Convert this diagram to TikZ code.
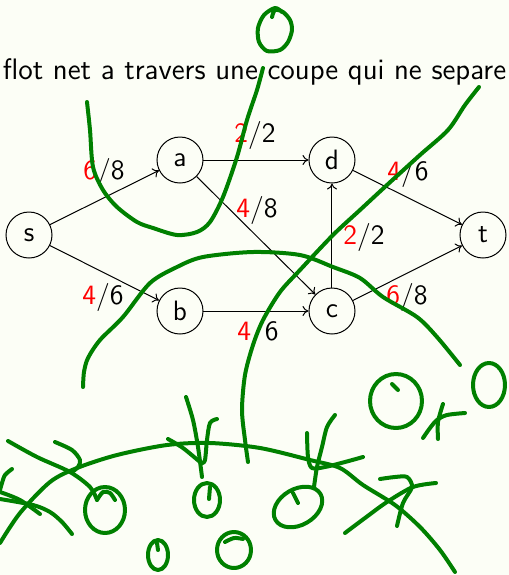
\documentclass[tikz,border=0pt]{standalone}
\usepackage{xcolor}
\usepackage{tikz}
\usetikzlibrary{arrows.meta,calc,positioning}
\definecolor{Paper}{HTML}{FCFEF6}
\definecolor{Ink}{HTML}{000000}
\definecolor{Flow}{HTML}{FF0000}
\definecolor{Pen}{HTML}{008000}

\begin{document}
\begin{tikzpicture}[x=0.5pt,y=-0.5pt,>={To[length=3pt,width=5pt]},
  vertex/.style={draw=Ink,circle,minimum size=23pt,inner sep=0pt,line width=0.5pt,font=\sffamily\fontsize{14}{16}\selectfont},
  caption/.style={inner sep=0pt,font=\sffamily\fontsize{14}{16}\selectfont},
  arc/.style={Ink,->,line width=0.5pt},
  pen/.style={Pen,line width=2pt,line cap=round,line join=round}]
  \fill[Paper] (0,0) rectangle (509,575);
  \useasboundingbox (0,0) rectangle (509,575);

  \node[caption,font=\sffamily\fontsize{14.8}{17}\selectfont] (title) at (254.5,72) {flot net a travers une coupe qui ne separe};

  \node[vertex] (s) at (29,235) {s};
  \node[vertex] (a) at (180,160) {a};
  \node[vertex] (d) at (332,160) {d};
  \node[vertex] (t) at (483,235) {t};
  \node[vertex] (b) at (180,311) {b};
  \node[vertex] (c) at (332,311) {c};

  \draw[arc] (s) -- (a);
  \draw[arc] (s) -- (b);
  \draw[arc] (a) -- (d);
  \draw[arc] (a) -- (c);
  \draw[arc] (b) -- (c);
  \draw[arc] (c) -- (d);
  \draw[arc] (d) -- (t);
  \draw[arc] (c) -- (t);

  \node[caption] (fsa) at (104,172) {\textcolor{Flow}{6}/8};
  \node[caption] (fsb) at (103,297) {\textcolor{Flow}{4}/6};
  \node[caption] (fad) at (255,135) {\textcolor{Flow}{2}/2};
  \node[caption] (fac) at (257,210) {\textcolor{Flow}{4}/8};
  \node[caption] (fcd) at (364,237) {\textcolor{Flow}{2}/2};
  \node[caption] (fdt) at (408,173) {\textcolor{Flow}{4}/6};
  \node[caption] (fct) at (407,297) {\textcolor{Flow}{6}/8};
  \node[caption] (fbc) at (258,333) {\textcolor{Flow}{4}/6};

  % freehand marks
  \draw[pen] plot[smooth] coordinates {(272,17) (275,10) (283,12) (290,20) (292,30) (288,42) (280,50) (267,51) (259,42) (258,28) (264,15) (275,8) (282,12)};
  \draw[pen] plot[smooth] coordinates {(87,102) (90,130) (93,167) (103,190) (117,207) (137,222) (153,228) (177,235) (197,232) (210,222) (223,197) (237,157) (247,120) (257,90) (263,68)};
  \draw[pen] plot[smooth] coordinates {(479,87) (465,105) (448,130) (420,155) (387,185) (360,210) (333,235) (300,270) (280,292) (263,320) (253,345) (245,375) (242,410) (245,440) (248,462)};
  \draw[pen] plot[smooth] coordinates {(83,387) (84,372) (88,358) (100,340) (123,317) (150,283) (177,267) (203,257) (253,252) (300,255) (333,267) (360,278) (383,297) (417,317) (437,337) (460,365)};
  \draw[pen] plot[smooth] coordinates {(0,543) (20,513) (50,482) (77,468) (117,455) (167,445) (210,443) (260,448) (310,460) (340,468) (363,485) (395,505) (420,527) (440,550) (455,572)};
  \draw[pen] plot[smooth] coordinates {(8,441) (37,457) (70,472) (90,487) (97,500)};
  \draw[pen] plot[smooth] coordinates {(55,442) (72,450) (80,460) (78,467) (72,472)};
  \draw[pen] plot[smooth] coordinates {(12,469) (5,475) (2,483) (0,490)};
  \draw[pen] plot[smooth] coordinates {(0,492) (20,500) (40,514)};
  \draw[pen] plot[smooth] coordinates {(0,499) (33,505) (50,512) (62,522) (72,534)};
  \draw[pen] (105,510) ellipse [x radius=20,y radius=23];
  \draw[pen] plot[smooth] coordinates {(97,500) (103,492) (110,493) (115,500)};
  \draw[pen] plot[smooth] coordinates {(186,397) (193,420) (198,447) (202,477)};
  \draw[pen] plot[smooth] coordinates {(217,419) (210,423) (207,440) (205,460) (202,463)};
  \draw[pen] plot[smooth] coordinates {(168,439) (183,448) (200,462)};
  \draw[pen] (207,500) ellipse [x radius=13,y radius=17];
  \draw[pen] (210,487) -- (209,499);
  \draw[pen] plot[smooth] coordinates {(307,433) (308,457) (312,468) (325,467) (345,462) (363,457)};
  \draw[pen] plot[smooth] coordinates {(335,415) (327,427) (322,447) (317,467) (314,487)};
  \draw[pen,rotate around={30:(298,507)}] (298,507) ellipse [x radius=26,y radius=18];
  \draw[pen] (293,493) -- (298,503);
  \draw[pen] (234,550) ellipse [x radius=17,y radius=18];
  \draw[pen] plot[smooth] coordinates {(225,542) (234,538) (243,539)};
  \draw[pen] (158,555) ellipse [x radius=10,y radius=15];
  \draw[pen] (157,543) -- (158,550);
  \draw[pen] (396,401) ellipse [x radius=26,y radius=27];
  \draw[pen] (398,390) -- (392,384);
  \draw[pen] plot[smooth] coordinates {(443,404) (438,422) (438,439)};
  \draw[pen] plot[smooth] coordinates {(423,438) (430,428) (437,420) (447,415) (465,413)};
  \draw[pen] (489,385) ellipse [x radius=16,y radius=22];
  \draw[pen] plot[smooth] coordinates {(380,479) (395,477) (407,477) (412,487) (403,503) (397,526)};
  \draw[pen] plot[smooth] coordinates {(345,533) (365,518) (387,502) (413,487) (436,483)};
\end{tikzpicture}
\end{document}
